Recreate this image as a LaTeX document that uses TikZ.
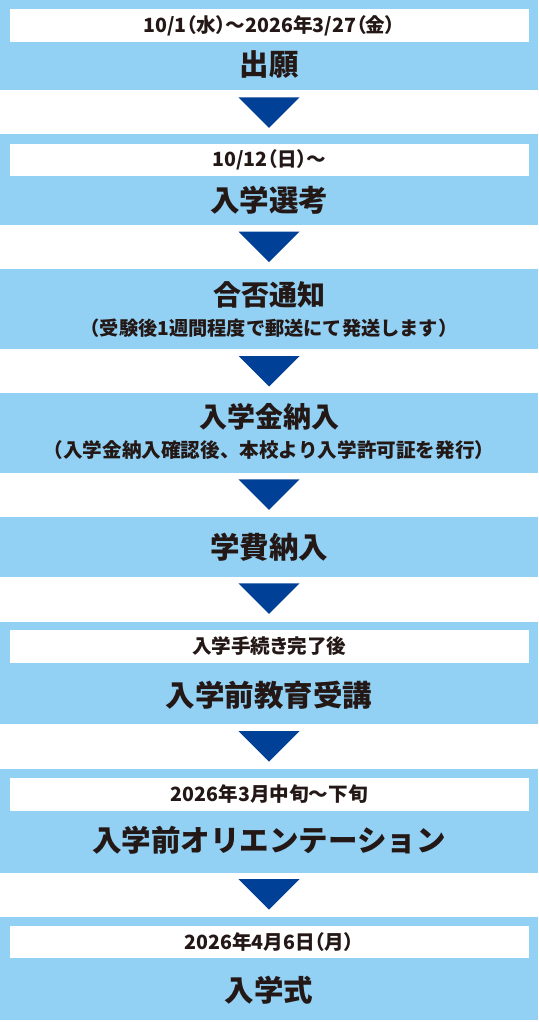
\documentclass[tikz,border=0pt]{standalone}
\usepackage{fontspec}
\newfontfamily\jp{Noto Sans CJK JP}
\newfontfamily\jpp{Noto Sans CJK JP}[RawFeature=+palt]
\definecolor{stageblue}{RGB}{146,208,244}
\definecolor{arrowblue}{RGB}{0,64,151}
\definecolor{ink}{RGB}{35,24,21}
\tikzset{
  stage/.style={fill=stageblue, draw=none, inner sep=0pt, minimum width=538pt, anchor=north west},
  datebox/.style={fill=white, draw=none, inner sep=0pt, minimum width=519pt, minimum height=32.5pt, anchor=north west, text=ink, font=\jpp\bfseries\fontsize{19.6}{24}\selectfont},
  title/.style={inner sep=0pt, text=ink, font=\jp\bfseries\fontsize{29.5}{34}\selectfont},
  titlesm/.style={inner sep=0pt, text=ink, font=\jp\bfseries\fontsize{28}{32}\selectfont},
  note/.style={inner sep=0pt, text=ink, font=\jp\bfseries\fontsize{#1}{24}\selectfont},
  tri/.style={fill=arrowblue, draw=none}
}
\begin{document}
\begin{tikzpicture}[x=1pt,y=-1pt]
\useasboundingbox (0,0) rectangle (538,1022);
\fill[white] (0,0) rectangle (538,1022);
% stages
\node[stage, minimum height=90pt]  (b1) at (0,0) {};
\node[stage, minimum height=91pt]  (b2) at (0,134) {};
\node[stage, minimum height=80pt]  (b3) at (0,269) {};
\node[stage, minimum height=80pt]  (b4) at (0,393) {};
\node[stage, minimum height=60pt]  (b5) at (0,517) {};
\node[stage, minimum height=102pt] (b6) at (0,622) {};
\node[stage, minimum height=104pt] (b7) at (0,769) {};
\node[stage, minimum height=103pt] (b8) at (0,917) {};
% date boxes
\node[datebox] (d1) at (9.5,9) {10/1（水）～2026年3/27（金）};
\node[datebox] (d2) at (9.5,143.3) {10/12（日）～};
\node[datebox] (d6) at (9.5,630) {入学手続き完了後};
\node[datebox] (d7) at (9.5,778) {2026年3月中旬～下旬};
\node[datebox] (d8) at (9.5,925.7) {2026年4月6日（月）};
% titles
\node[title] (t1) at (269,65) {出願};
\node[title] (t2) at (269,200) {入学選考};
\node[titlesm] (t3) at (269,295) {合否通知};
\node[note=19.2] (n3) at (269,328.3) {（受験後1週間程度で郵送にて発送します）};
\node[note=19.6] (n4) at (269,450) {（入学金納入確認後、本校より入学許可証を発行）};
\node[titlesm] (t4) at (269,416.7) {入学金納入};
\node[title] (t5) at (269,547.3) {学費納入};
\node[title] (t6) at (269,695) {入学前教育受講};
\node[title] (t7) at (269,840) {入学前オリエンテーション};
\node[title] (t8) at (269,990) {入学式};
% arrows
\foreach \t in {97.3,231.7,356,479.3,583.3,731,879}
  \fill[tri] (238.5,\t) -- ++(61,0) -- ++(-30.5,30.5) -- cycle;
\end{tikzpicture}
\end{document}
